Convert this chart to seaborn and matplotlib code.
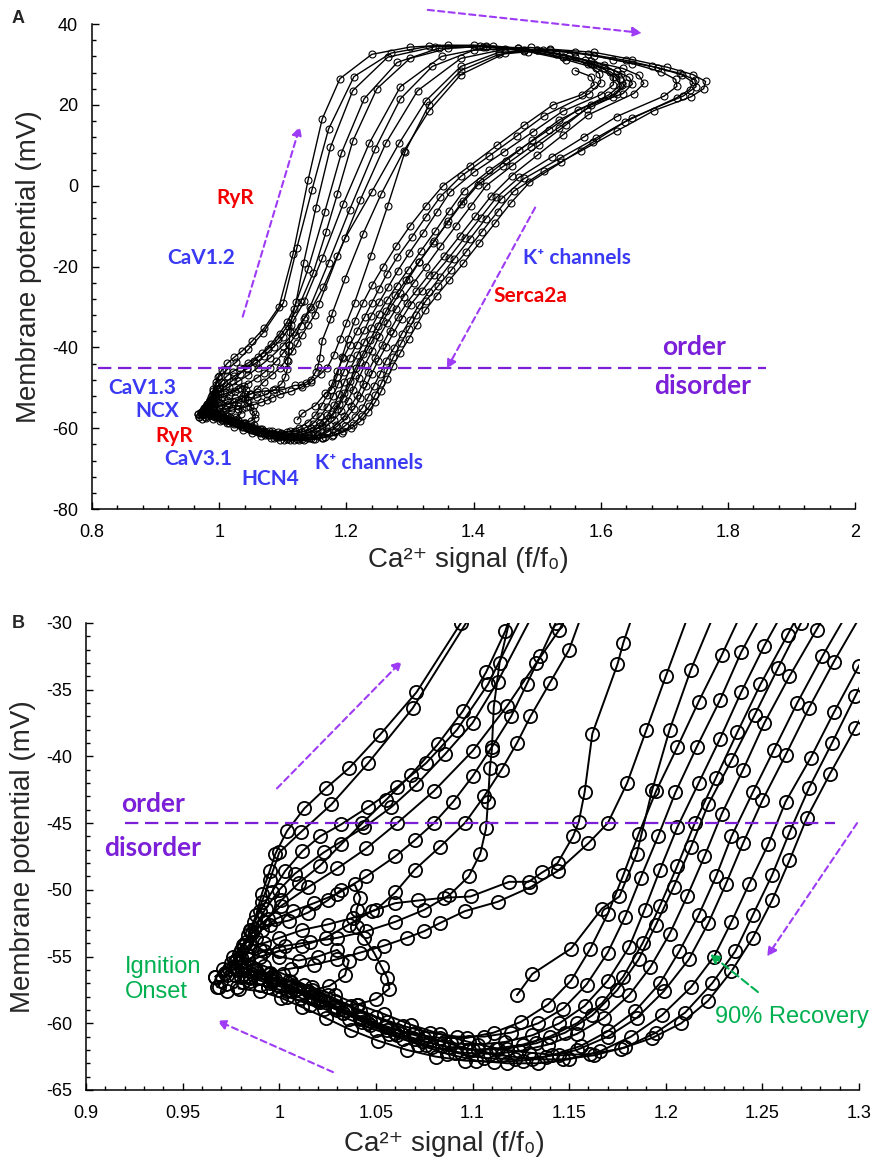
import pandas as pd
import seaborn as sns
import matplotlib.pyplot as plt
from matplotlib.ticker import MultipleLocator, FuncFormatter

sns.set_theme(style='ticks')
plt.rcParams['font.family'] = ['Liberation Sans', 'DejaVu Sans']

ap1 = [(0.970,-56.8),(0.974,-55.9),(0.979,-54.8),(0.984,-53.4),(0.988,-51.9),(0.991,-50.3),(0.995,-48.6),(0.998,-47.3),
       (1.004,-45.6),(1.013,-43.9),(1.024,-42.4),(1.036,-40.9),(1.052,-38.4),(1.071,-35.2),(1.094,-30.0),(1.116,-17.0),
       (1.140,1.5),(1.162,16.5),(1.190,26.5),(1.240,32.5),(1.300,34.3),(1.360,34.8),(1.420,34.5),(1.480,33.4),(1.540,31.8),
       (1.590,30.0),(1.625,28.3),(1.645,26.8),(1.650,25.2),(1.635,22.8),(1.585,20.0),(1.545,15.0),(1.503,10.0),(1.461,5.0),
       (1.420,0.0),(1.396,-5.0),(1.372,-10.0),(1.348,-15.0),(1.325,-20.0),(1.306,-24.0),(1.290,-27.5),(1.278,-30.5),
       (1.264,-34.0),(1.251,-37.5),(1.240,-41.0),(1.229,-44.3),(1.220,-47.5),(1.211,-50.5),(1.202,-53.3),(1.192,-55.8),
       (1.181,-57.9),(1.168,-59.6),(1.154,-60.8),(1.139,-61.6),(1.124,-62.1),(1.109,-62.3),(1.094,-62.2),(1.079,-61.8),
       (1.064,-61.2),(1.050,-60.5),(1.036,-59.7),(1.023,-58.9),(1.011,-58.1),(1.000,-57.5),(0.990,-57.1),(0.981,-56.9)]
ap2 = [(0.968,-57.3),(0.973,-56.4),(0.978,-55.2),(0.983,-53.9),(0.987,-52.4),(0.991,-50.9),(0.995,-49.3),(1.000,-47.2),
       (1.011,-45.7),(1.027,-43.6),(1.046,-40.5),(1.069,-36.4),(1.101,-29.0),(1.122,-15.5),(1.146,-1.0),(1.172,14.0),
       (1.212,27.0),(1.270,32.8),(1.330,34.5),(1.400,34.8),(1.470,34.0),(1.530,32.6),(1.585,30.8),(1.635,29.0),(1.660,27.3),
       (1.668,25.3),(1.652,22.8),(1.580,17.5),(1.540,12.5),(1.500,7.5),(1.460,2.5),(1.428,-2.5),(1.403,-7.5),(1.378,-12.5),
       (1.353,-17.5),(1.330,-22.0),(1.310,-26.0),(1.295,-29.0),(1.281,-32.5),(1.268,-36.0),(1.256,-39.5),(1.245,-42.7),
       (1.234,-46.0),(1.226,-49.0),(1.217,-51.9),(1.207,-54.6),(1.197,-57.0),(1.184,-59.1),(1.170,-60.6),(1.156,-61.7),
       (1.141,-62.4),(1.126,-62.8),(1.111,-62.9),(1.096,-62.8),(1.081,-62.5),(1.066,-62.0),(1.051,-61.3),(1.037,-60.5),
       (1.024,-59.6),(1.012,-58.8),(1.001,-58.1),(0.990,-57.6),(0.979,-57.4)]
ap3 = [(0.975,-55.5),(0.980,-54.5),(0.985,-53.1),(0.990,-51.6),(0.996,-50.2),(1.003,-48.6),(1.012,-47.1),(1.021,-46.0),
       (1.032,-45.1),(1.046,-43.8),(1.061,-42.3),(1.076,-40.5),(1.092,-38.0),(1.108,-34.6),(1.128,-28.8),(1.148,-21.5),
       (1.168,-11.5),(1.186,-2.0),(1.210,11.0),(1.248,24.0),(1.300,31.5),(1.360,34.0),(1.430,34.6),(1.500,33.6),(1.560,31.8),
       (1.605,29.8),(1.632,27.6),(1.640,25.3),(1.625,22.8),(1.564,18.8),(1.518,13.8),(1.471,8.8),(1.425,3.8),(1.385,-1.2),
       (1.362,-6.2),(1.340,-11.2),(1.317,-16.2),(1.297,-20.8),(1.279,-24.8),(1.264,-28.3),(1.251,-31.7),(1.239,-35.2),
       (1.228,-38.7),(1.217,-42.0),(1.206,-45.3),(1.197,-48.5),(1.189,-51.5),(1.181,-54.3),(1.170,-56.8),(1.158,-58.7),
       (1.145,-60.0),(1.131,-60.9),(1.117,-61.4),(1.103,-61.6),(1.089,-61.5),(1.075,-61.1),(1.061,-60.5),(1.047,-59.8),
       (1.034,-59.0),(1.021,-58.2),(1.009,-57.4),(0.998,-56.7),(0.988,-56.1),(0.980,-55.7)]
ap4 = [(0.972,-56.2),(0.977,-55.3),(0.982,-54.2),(0.987,-52.9),(0.993,-51.4),(1.000,-50.0),(1.008,-48.8),(1.023,-47.2),
       (1.044,-45.3),(1.058,-43.8),(1.071,-42.1),(1.086,-39.8),(1.100,-37.5),(1.113,-34.4),(1.134,-28.6),(1.162,-18.0),
       (1.195,-4.5),(1.236,10.5),(1.285,24.5),(1.350,32.0),(1.420,34.2),(1.490,34.2),(1.560,33.0),(1.620,31.2),(1.680,29.5),
       (1.725,27.8),(1.748,26.2),(1.750,24.5),(1.730,22.2),(1.649,16.8),(1.593,11.8),(1.536,6.8),(1.480,1.8),(1.444,-3.2),
       (1.419,-8.2),(1.394,-13.2),(1.369,-18.2),(1.348,-22.5),(1.330,-26.2),(1.314,-29.6),(1.300,-33.2),(1.287,-36.7),
       (1.275,-40.1),(1.262,-43.4),(1.253,-46.6),(1.243,-49.6),(1.234,-52.4),(1.225,-55.0),(1.213,-57.3),(1.198,-59.4),
       (1.182,-61.0),(1.166,-62.1),(1.150,-62.7),(1.134,-63.0),(1.118,-63.0),(1.102,-62.8),(1.087,-62.3),(1.072,-61.6),
       (1.057,-60.8),(1.043,-59.9),(1.030,-59.0),(1.018,-58.2),(1.006,-57.5),(0.995,-57.0),(0.985,-56.6),(0.977,-56.4)]
ap5 = [(0.980,-55.0),(0.985,-54.0),(0.991,-53.0),(0.998,-52.2),(1.007,-51.6),(1.018,-51.0),(1.030,-50.3),(1.045,-49.0),
       (1.060,-47.5),(1.070,-46.3),(1.080,-45.0),(1.090,-43.4),(1.100,-41.5),(1.110,-39.3),(1.120,-37.0),(1.128,-34.6),
       (1.135,-32.5),(1.143,-30.0),(1.172,-19.0),(1.205,-6.0),(1.245,9.0),(1.285,21.5),(1.335,29.5),(1.400,33.5),
       (1.470,34.0),(1.530,32.8),(1.575,31.0),(1.605,29.0),(1.620,27.0),(1.620,25.0),(1.600,22.5),(1.540,18.4),(1.494,13.4),
       (1.448,8.4),(1.401,3.4),(1.363,-1.6),(1.342,-6.6),(1.321,-11.6),(1.299,-16.6),(1.281,-21.0),(1.266,-25.0),
       (1.252,-28.7),(1.239,-32.2),(1.228,-35.8),(1.216,-39.3),(1.205,-42.7),(1.196,-46.0),(1.187,-49.1),(1.179,-52.0),
       (1.170,-54.7),(1.159,-57.1),(1.147,-58.9),(1.134,-60.0),(1.120,-60.7),(1.106,-61.0),(1.092,-61.0),(1.078,-60.7),
       (1.064,-60.2),(1.050,-59.5),(1.037,-58.7),(1.025,-57.9),(1.013,-57.1),(1.002,-56.3),(0.992,-55.7),(0.984,-55.2)]
ap6 = [(0.985,-54.2),(0.992,-54.0),(1.000,-53.6),(1.012,-53.0),(1.025,-52.6),(1.038,-52.1),(1.050,-51.5),(1.060,-50.2),
       (1.070,-48.5),(1.083,-46.8),(1.096,-45.0),(1.106,-43.0),(1.115,-41.0),(1.123,-39.0),(1.130,-37.0),(1.140,-34.5),
       (1.150,-32.0),(1.157,-29.2),(1.186,-17.5),(1.222,-3.5),(1.262,10.5),(1.312,23.5),(1.380,31.5),(1.450,33.8),
       (1.520,33.6),(1.590,32.2),(1.650,30.2),(1.695,28.2),(1.718,26.3),(1.720,24.6),(1.700,22.2),(1.625,17.1),(1.574,12.1),
       (1.523,7.1),(1.472,2.1),(1.436,-2.9),(1.411,-7.9),(1.386,-12.9),(1.361,-17.9),(1.338,-22.2),(1.319,-26.0),
       (1.301,-29.4),(1.287,-32.9),(1.274,-36.4),(1.262,-39.9),(1.250,-43.3),(1.240,-46.5),(1.231,-49.6),(1.222,-52.5),
       (1.212,-55.2),(1.199,-57.6),(1.185,-59.6),(1.170,-61.0),(1.154,-62.0),(1.138,-62.5),(1.122,-62.7),(1.106,-62.6),
       (1.091,-62.2),(1.076,-61.6),(1.061,-60.9),(1.047,-60.1),(1.033,-59.2),(1.020,-58.3),(1.008,-57.5),(0.997,-56.8),
       (0.988,-56.2),(0.980,-55.8)]
ap7 = [(0.978,-56.0),(0.984,-55.2),(0.992,-54.6),(1.003,-54.2),(1.016,-53.9),(1.030,-53.6),(1.045,-53.1),(1.060,-52.4),
       (1.075,-51.5),(1.088,-50.4),(1.098,-49.0),(1.104,-47.3),(1.107,-45.4),(1.108,-43.4),(1.109,-40.9),(1.110,-39.5),
       (1.111,-36.3),(1.114,-33.0),(1.121,-28.7),(1.133,-19.0),(1.152,-5.5),(1.175,9.5),(1.210,23.5),(1.265,31.8),
       (1.340,34.4),(1.410,34.6),(1.480,33.6),(1.540,31.8),(1.585,30.0),(1.615,28.2),(1.630,26.5),(1.630,24.7),(1.612,22.4),
       (1.534,16.2),(1.492,11.2),(1.451,6.2),(1.410,1.2),(1.383,-3.8),(1.360,-8.8),(1.338,-13.8),(1.315,-18.8),(1.298,-23.0),
       (1.284,-26.6),(1.270,-30.0),(1.258,-33.4),(1.246,-36.9),(1.234,-40.3),(1.222,-43.6),(1.213,-46.8),(1.204,-49.8),
       (1.195,-52.6),(1.186,-55.2),(1.175,-57.5),(1.162,-59.4),(1.148,-60.7),(1.133,-61.5),(1.118,-61.9),(1.103,-62.0),
       (1.088,-61.8),(1.074,-61.3),(1.060,-60.7),(1.046,-60.0),(1.033,-59.2),(1.021,-58.4),(1.010,-57.7),(0.999,-57.1),
       (0.990,-56.6),(0.982,-56.3)]
ap8 = [(0.982,-55.6),(0.990,-55.0),(1.000,-54.6),(1.012,-54.2),(1.024,-53.6),(1.036,-52.6),(1.048,-51.6),(1.060,-51.0),
       (1.072,-50.8),(1.085,-50.6),(1.099,-50.5),(1.119,-49.4),(1.129,-49.4),(1.136,-48.7),(1.144,-48.0),(1.152,-46.0),
       (1.155,-44.9),(1.158,-42.7),(1.162,-38.3),(1.175,-33.1),(1.178,-31.5),(1.198,-23.0),(1.226,-12.0),(1.255,-2.0),
       (1.290,8.5),(1.330,18.5),(1.380,27.5),(1.450,32.8),(1.520,33.8),(1.590,33.0),(1.650,31.2),(1.705,29.3),(1.745,27.5),
       (1.765,25.8),(1.762,24.0),(1.742,22.0),(1.684,18.6),(1.626,13.6),(1.569,8.6),(1.511,3.6),(1.463,-1.4),(1.438,-6.4),
       (1.413,-11.4),(1.388,-16.4),(1.365,-20.9),(1.344,-24.9),(1.325,-28.5),(1.310,-32.0),(1.298,-35.5),(1.286,-39.0),
       (1.274,-42.4),(1.264,-45.7),(1.255,-48.9),(1.245,-51.9),(1.236,-54.6),(1.224,-57.0),(1.210,-59.2),(1.195,-60.7),
       (1.179,-61.8),(1.163,-62.4),(1.147,-62.7),(1.131,-62.7),(1.115,-62.4),(1.100,-62.0),(1.085,-61.4),(1.070,-60.7),
       (1.056,-59.9),(1.042,-59.1),(1.029,-58.3),(1.017,-57.5),(1.005,-56.8),(0.995,-56.3),(0.987,-55.9)]
ap9 = [(0.985,-56.5),(0.995,-56.2),(1.006,-55.9),(1.018,-55.6),(1.030,-55.2),(1.042,-54.7),(1.054,-54.2),(1.066,-53.6),
       (1.075,-53.1),(1.083,-52.5),(1.096,-51.6),(1.113,-50.9),(1.130,-49.8),(1.144,-48.6),(1.160,-46.5),(1.170,-45.0),
       (1.180,-42.0),(1.190,-38.0),(1.200,-34.0),(1.213,-28.9),(1.238,-17.5),(1.265,-5.0),(1.292,8.3),(1.330,20.0),
       (1.380,28.5),(1.440,32.5),(1.510,33.5),(1.580,32.6),(1.640,31.0),(1.690,29.2),(1.728,27.4),(1.745,25.6),(1.740,23.8),
       (1.720,21.8),(1.638,15.8),(1.588,10.8),(1.538,5.8),(1.488,0.8),(1.459,-4.2),(1.434,-9.2),(1.409,-14.2),(1.384,-19.2),
       (1.362,-23.4),(1.342,-27.2),(1.324,-30.8),(1.311,-34.4),(1.298,-37.9),(1.285,-41.3),(1.273,-44.6),(1.264,-47.8),
       (1.255,-50.8),(1.245,-53.6),(1.234,-56.1),(1.222,-58.3),(1.208,-60.0),(1.193,-61.1),(1.177,-61.9),(1.161,-62.3),
       (1.145,-62.4),(1.129,-62.2),(1.113,-61.9),(1.098,-61.4),(1.083,-60.8),(1.068,-60.1),(1.054,-59.3),(1.041,-58.6),
       (1.029,-57.9),(1.017,-57.3),(1.006,-56.9),(0.996,-56.7),(0.989,-56.6)]
ap10 = [(0.976,-55.0),(0.981,-54.1),(0.986,-53.2),(0.992,-52.4),(1.001,-51.2),(1.015,-49.8),(1.030,-48.4),(1.045,-46.9),
        (1.061,-45.0),(1.080,-42.6),(1.100,-39.6),(1.118,-36.2),(1.133,-33.0),(1.145,-30.5),(1.164,-25.0),(1.198,-13.0),
        (1.240,-1.5),(1.283,10.5),(1.325,21.0),(1.380,29.5),(1.440,33.0),(1.500,33.5),(1.550,32.0),(1.580,30.0),(1.598,27.7),
        (1.600,25.5),(1.582,22.8),(1.511,17.3),(1.468,12.3),(1.424,7.3),(1.380,2.3),(1.348,-2.7),(1.325,-7.7),(1.303,-12.7),
        (1.280,-17.7),(1.264,-21.8),(1.251,-25.6),(1.240,-29.0),(1.229,-32.4),(1.217,-35.9),(1.206,-39.3),(1.195,-42.6),
        (1.186,-45.8),(1.178,-48.9),(1.170,-51.8),(1.161,-54.4),(1.151,-56.8),(1.139,-58.6),(1.125,-59.9),(1.111,-60.7),
        (1.097,-61.1),(1.083,-61.1),(1.069,-60.8),(1.055,-60.3),(1.042,-59.6),(1.029,-58.8),(1.017,-58.0),(1.006,-57.2),
        (0.996,-56.5),(0.987,-55.9),(0.980,-55.4)]
ap11 = [(0.983,-54.8),(0.988,-53.6),(0.994,-52.2),(1.001,-50.8),(1.010,-49.5),(1.021,-48.2),(1.032,-46.6),(1.043,-45.0),
        (1.055,-43.3),(1.068,-41.4),(1.082,-39.1),(1.095,-36.6),(1.107,-33.7),(1.117,-30.6),(1.140,-20.5),(1.166,-6.5),
        (1.192,8.0),(1.228,21.5),(1.280,30.5),(1.345,34.0),(1.415,34.4),(1.485,33.2),(1.545,31.2),(1.592,29.1),(1.622,27.0),
        (1.633,24.8),(1.620,22.0),(1.578,19.0),(1.534,14.4),(1.490,9.6),(1.447,4.8),(1.407,0.2),(1.381,-4.6),(1.358,-9.4),
        (1.336,-14.1),(1.314,-18.9),(1.294,-23.3),(1.277,-27.1),(1.263,-30.9),(1.249,-34.6),(1.237,-38.2),(1.226,-41.6),
        (1.215,-45.0),(1.206,-48.2),(1.197,-51.2),(1.188,-54.0),(1.178,-56.5),(1.167,-58.5),(1.154,-60.0),(1.140,-61.0),
        (1.126,-61.6),(1.112,-61.9),(1.098,-62.0),(1.084,-61.7),(1.070,-61.2),(1.056,-60.5),(1.042,-59.7),(1.029,-58.9),
        (1.017,-58.1),(1.006,-57.3),(0.996,-56.6),(0.988,-56.0)]
# failed ignitions and the end of the recording
failed1 = [(0.985,-53.0),(0.995,-52.6),(1.005,-52.3),(1.015,-51.7),(1.025,-50.8),(1.032,-50.0),(1.039,-49.6),(1.042,-50.6),
           (1.040,-51.5),(1.040,-52.8),(1.044,-53.6),(1.049,-54.7),(1.053,-55.8),(1.056,-56.6),(1.057,-57.4),(1.050,-58.2),
           (1.040,-58.6),(1.028,-58.8),(1.016,-58.6),(1.004,-58.0),(0.994,-57.3),(0.985,-56.8)]
failed2 = [(0.990,-54.5),(1.000,-55.0),(1.010,-55.3),(1.020,-55.0),(1.030,-54.5),(1.036,-55.3),(1.034,-56.4),(1.026,-57.2),
           (1.015,-57.6),(1.004,-57.6),(0.994,-57.3)]
ignition = [(0.967,-56.5),(0.969,-57.3),(0.973,-57.6),(0.978,-57.3),(0.980,-56.5),(0.976,-55.8),(0.971,-55.9),(0.967,-56.5)]
last_ap = [(1.560,28.5),(1.585,27.0),(1.590,25.0),(1.570,22.5),(1.525,20.0),(1.480,15.0),(1.437,10.0),(1.395,5.0),
           (1.352,0.0),(1.325,-5.0),(1.300,-10.0),(1.278,-15.0),(1.258,-20.0),(1.241,-24.5),(1.226,-29.0),(1.213,-33.5),
           (1.202,-38.0),(1.193,-42.5),(1.185,-47.3),(1.176,-50.5),(1.167,-51.4),(1.151,-54.4),(1.131,-56.3),(1.123,-57.9)]

traces = {'ap1': ap1, 'ap2': ap2, 'ap3': ap3, 'ap4': ap4, 'ap5': ap5, 'ap6': ap6, 'ap7': ap7,
          'ap8': ap8, 'ap9': ap9, 'ap10': ap10, 'ap11': ap11, 'failed1': failed1, 'failed2': failed2,
          'ignition': ignition, 'last_ap': last_ap}

threshold_mv = -45
purple = '#7B1FD8'
arrow_purple = '#9D3BF5'
blue = '#3A3AF4'
red = '#F20000'
green = '#00B050'

frames = []
for name, pts in traces.items():
    d = pd.DataFrame(pts, columns=['ca', 'vm'])
    d['trace'] = name
    frames.append(d)
df = pd.concat(frames, ignore_index=True)

fig = plt.figure(figsize=(8.73, 11.67), dpi=100)
axA = fig.add_axes([0.1054, 0.5638, 0.874, 0.4156])
axB = fig.add_axes([0.0985, 0.066, 0.8855, 0.4002])

sns.lineplot(data=df, x='ca', y='vm', units='trace', estimator=None, sort=False, ax=axA,
             color='black', linewidth=1.0, marker='o', markersize=5, markerfacecolor='none',
             markeredgecolor='black', markeredgewidth=0.8, legend=False)
sns.lineplot(data=df, x='ca', y='vm', units='trace', estimator=None, sort=False, ax=axB,
             color='black', linewidth=1.4, marker='o', markersize=9.5, markerfacecolor='none',
             markeredgecolor='black', markeredgewidth=1.3, legend=False)

fmt = FuncFormatter(lambda v, p: f'{round(v, 3):g}')
for ax, xl, yl, xmaj, xmin, ymaj, ymin in [
        (axA, (0.8, 2.0), (-80, 40), 0.2, 0.04, 20, 4),
        (axB, (0.9, 1.3), (-65, -30), 0.05, 0.01, 5, 1)]:
    ax.set_xlim(*xl)
    ax.set_ylim(*yl)
    ax.xaxis.set_major_locator(MultipleLocator(xmaj))
    ax.xaxis.set_minor_locator(MultipleLocator(xmin))
    ax.yaxis.set_major_locator(MultipleLocator(ymaj))
    ax.yaxis.set_minor_locator(MultipleLocator(ymin))
    ax.xaxis.set_major_formatter(fmt)
    ax.yaxis.set_major_formatter(fmt)
    sns.despine(ax=ax)
    for s in ['left', 'bottom']:
        ax.spines[s].set_linewidth(1.1)
        ax.spines[s].set_color('black')
    ax.tick_params(which='major', direction='in', length=5, width=1, labelsize=13, colors='black')
    ax.tick_params(which='minor', direction='in', length=3, width=1, colors='black')
    ax.tick_params(axis='x', which='major', pad=11)
    ax.tick_params(axis='y', which='major', pad=10)
    ax.set_ylabel('Membrane potential (mV)', fontsize=20)
    ax.set_xlabel('Ca\u00b2\u207a signal (f/f\u2080)', fontsize=20)

axA.yaxis.set_label_coords(-0.066, 0.5)
axA.xaxis.set_label_coords(0.493, -0.078)
axB.yaxis.set_label_coords(-0.065, 0.5)
axB.xaxis.set_label_coords(0.464, -0.088)

fig.text(0.021, 0.984, 'A', fontsize=13, fontweight='bold', va='center', ha='center')
fig.text(0.021, 0.466, 'B', fontsize=13, fontweight='bold', va='center', ha='center')

lab = dict(fontweight='bold', fontsize=15, family=['Lato', 'DejaVu Sans'], ha='center', va='center')

# panel A
axA.plot([0.81, 1.86], [threshold_mv, threshold_mv], color=purple, lw=1.6, ls=(0, (6, 3)))
axA.text(1.747, -39.8, 'order', color=purple, **{**lab, 'fontsize': 19})
axA.text(1.760, -49.5, 'disorder', color=purple, **{**lab, 'fontsize': 19})
axA.text(1.026, -3.1, 'RyR', color=red, **lab)
axA.text(0.971, -17.8, 'CaV1.2', color=blue, **lab)
axA.text(1.563, -17.8, 'K\u207a channels', color=blue, **lab)
axA.text(1.490, -27.4, 'Serca2a', color=red, **lab)
axA.text(0.879, -50.0, 'CaV1.3', color=blue, **lab)
axA.text(0.902, -55.7, 'NCX', color=blue, **lab)
axA.text(0.929, -61.9, 'RyR', color=red, **lab)
axA.text(0.967, -67.6, 'CaV3.1', color=blue, **lab)
axA.text(1.080, -72.6, 'HCN4', color=blue, **lab)
axA.text(1.235, -68.6, 'K\u207a channels', color=blue, **lab)

arrow = dict(arrowstyle='-|>', color=arrow_purple, lw=1.5, ls=(0, (3, 2)), mutation_scale=14,
             shrinkA=0, shrinkB=0)
for ax, tail, head in [(axA, (1.037, -32.4), (1.127, 14.7)),
                       (axA, (1.328, 43.5), (1.665, 37.8)),
                       (axA, (1.497, -5.4), (1.358, -45.3)),
                       (axB, (0.9988, -42.4), (1.0635, -32.85)),
                       (axB, (1.299, -45.0), (1.2524, -55.0)),
                       (axB, (1.0278, -63.66), (0.9678, -59.8))]:
    ax.annotate('', xy=head, xytext=tail, arrowprops=arrow, annotation_clip=False)

# panel B
axB.plot([0.92, 1.2876], [threshold_mv, threshold_mv], color=purple, lw=1.6, ls=(0, (6, 3)))
axB.text(0.9347, -43.6, 'order', color=purple, **{**lab, 'fontsize': 19})
axB.text(0.9347, -46.9, 'disorder', color=purple, **{**lab, 'fontsize': 19})
axB.text(0.9202, -56.7, 'Ignition\nOnset', color=green, fontsize=17, ha='left', va='center')
axB.text(1.2653, -59.5, '90% Recovery', color=green, fontsize=17, ha='center', va='center')
axB.annotate('', xy=(1.2229, -54.8), xytext=(1.2477, -57.66),
             arrowprops=dict(arrowstyle='-|>', color=green, lw=1.5, ls=(0, (4, 2)),
                             mutation_scale=14, shrinkA=0, shrinkB=0))

fig.savefig('out.png', dpi=100)
